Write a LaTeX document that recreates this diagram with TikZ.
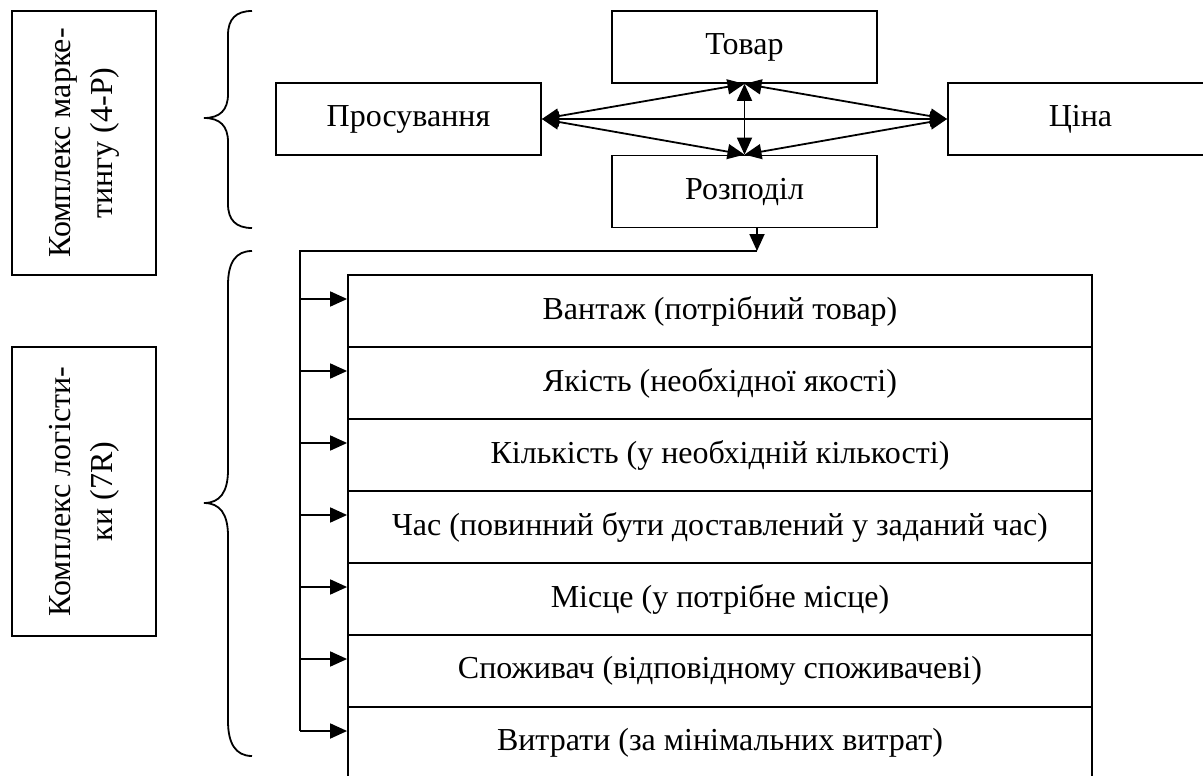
\documentclass[tikz,border=0pt]{standalone}
\usepackage{fontspec}
\setmainfont{Liberation Serif}
\usetikzlibrary{arrows.meta}

\tikzset{
  txt/.style={font=\fontsize{32}{42}\selectfont},
  box/.style={draw, line width=1.8pt, txt, minimum width=265, minimum height=72},
  row/.style={draw, line width=1.8pt, txt, minimum width=744, minimum height=72},
  side/.style={draw, line width=1.8pt, txt, rotate=90, align=center, minimum height=144},
  arr/.style={line width=1.8pt, -{Triangle[length=17pt,width=15pt]}},
  dbl/.style={line width=1.8pt, {Triangle[length=17pt,width=15pt]}-{Triangle[length=17pt,width=15pt]}},
}

\begin{document}
\begin{tikzpicture}[x=1pt, y=-1pt]

\useasboundingbox (0,0) rectangle (1203,776);

\node[side, minimum width=264] (mark) at (84,143) {Комплекс марке-\\тингу (4-Р)};
\node[side, minimum width=289] (logi) at (84,491.5) {Комплекс логісти-\\ки (7R)};

\draw[line width=1.8pt] (252,11) .. controls (236,11) and (228,19) .. (228,35) -- (228,94) .. controls (228,110) and (220,118) .. (204,118) .. controls (220,118) and (228,126) .. (228,142) -- (228,204) .. controls (228,220) and (236,228) .. (252,228);
\draw[line width=1.8pt] (252,251) .. controls (236,251) and (228,262) .. (228,285) -- (228,470) .. controls (228,492) and (220,503) .. (204,503) .. controls (220,503) and (228,514) .. (228,536) -- (228,721) .. controls (228,744) and (236,756) .. (252,756);

\node[box] (tovar) at (744.5,47) {Товар};
\node[box] (prosuv) at (408.5,119) {Просування};
\node[box] (cina) at (1080.5,119) {Ціна};
\node[box] (rozp) at (744.5,191.5) {Розподіл};

\draw[dbl] (prosuv.east) -- (cina.west);
\draw[dbl] (prosuv.east) -- (tovar.south);
\draw[dbl] (prosuv.east) -- (rozp.north);
\draw[dbl] (cina.west) -- (tovar.south);
\draw[dbl] (cina.west) -- (rozp.north);
\draw[dbl] (tovar.south) -- (rozp.north);

\node[row] (r1) at (720,311) {Вантаж (потрібний товар)};
\node[row] (r2) at (720,383) {Якість (необхідної якості)};
\node[row] (r3) at (720,455) {Кількість (у необхідній кількості)};
\node[row] (r4) at (720,527) {Час (повинний бути доставлений у заданий час)};
\node[row] (r5) at (720,599) {Місце (у потрібне місце)};
\node[row] (r6) at (720,671) {Споживач (відповідному споживачеві)};
\node[row] (r7) at (720,743) {Витрати (за мінімальних витрат)};

\coordinate (d) at (757,251);
\coordinate (b1) at (300,299);
\coordinate (b2) at (300,371);
\coordinate (b3) at (300,443);
\coordinate (b4) at (300,515);
\coordinate (b5) at (300,587);
\coordinate (b6) at (300,659);
\coordinate (b7) at (300,731);

\draw[arr] (d |- rozp.south) -- (d);
\draw[line width=1.8pt] (d) -- (d -| b1) -- (b7);

\draw[arr] (b1) -- (b1 -| r1.west);
\draw[arr] (b2) -- (b2 -| r2.west);
\draw[arr] (b3) -- (b3 -| r3.west);
\draw[arr] (b4) -- (b4 -| r4.west);
\draw[arr] (b5) -- (b5 -| r5.west);
\draw[arr] (b6) -- (b6 -| r6.west);
\draw[arr] (b7) -- (b7 -| r7.west);

\end{tikzpicture}
\end{document}
